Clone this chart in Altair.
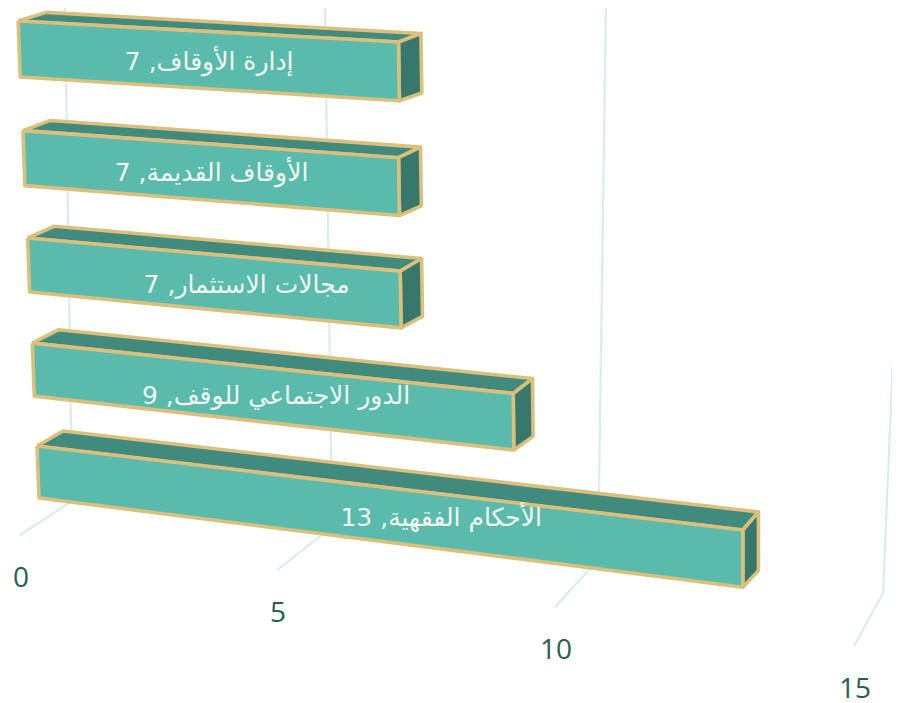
import altair as alt
import pandas as pd

# Data, bottom row first
categories = ["الأحكام الفقهية", "الدور الاجتماعي للوقف", "مجالات الاستثمار", "الأوقاف القديمة", "إدارة الأوقاف"]
values = [13, 9, 7, 7, 7]
ticks = [0, 5, 10, 15]

FRONT, TOP, SIDE = "#5ABBAC", "#408A7E", "#38776C"
EDGE, GRID, AXIS_TEXT, LABEL_TEXT = "#DABF7D", "#D9EEE9", "#27604F", "#F2F7F0"


def project(v, r, depth=0, height=0):
    """Perspective camera of the 3D chart: value v, row r, depth 0..1, height 0 (top) ..1 (bottom)."""
    x = 37 - 4.7 * r + v * (51.5 + 0.215 * v + 0.11 * r * (r - 1))
    y = 446 - 101.75 * r - 1.125 * r * r + v * (6.46 - 0.865 * r)
    h = 52 + r + 0.4 * v
    x += 2 * height * max(0, 1 - v / 13)
    y += height * h
    dx = 26 + 0.5 * r - 0.8 * v
    dy = -(15 - 1.6 * r) - v * (0.23 - 0.06 * r)
    if height:
        dy *= 0.92
    return x + depth * dx, y + depth * dy


def grid_points(v):
    u = v / 5
    return [
        (65 + 249.5 * u + 10.5 * u * u, 0),
        (72 + 261.33 * u - 3.5 * u * u + 2.17 * u ** 3, 501 + 20.17 * u + 7 * u * u - 1.17 * u ** 3),
        (20 + 246.5 * u + 10.5 * u * u, 535 + 34 * u + u * u),
    ]


faces = {"front": [], "top": [], "side": []}
for r, val in enumerate(values):
    quads = {
        "front": [(0, 0, 0), (val, 0, 0), (val, 0, 1), (0, 0, 1)],
        "top": [(0, 0, 0), (0, 1, 0), (val, 1, 0), (val, 0, 0)],
        "side": [(val, 0, 0), (val, 1, 0), (val, 1, 1), (val, 0, 1)],
    }
    for name, q in quads.items():
        for i, (v, d, h) in enumerate(q + q[:1]):
            px, py = project(v, r, d, h)
            faces[name].append({"bar": r, "i": i, "px": px, "py": py})

xs = alt.Scale(domain=[8, 892], range=[0, 884], nice=False, zero=False)
ys = alt.Scale(domain=[703, 8], range=[695, 0], nice=False, zero=False)
X = alt.X("px:Q", scale=xs, axis=None)
Y = alt.Y("py:Q", scale=ys, axis=None)

grid_rows = []
for t in ticks:
    for i, (px, py) in enumerate(grid_points(t)):
        grid_rows.append({"t": t, "i": i, "px": px, "py": py})
grid = alt.Chart(pd.DataFrame(grid_rows)).mark_line(color=GRID, strokeWidth=2.2, clip=True).encode(
    x=X, y=Y, detail="t:N", order="i:Q"
)


def face_layer(name, fill):
    return alt.Chart(pd.DataFrame(faces[name])).mark_line(
        fill=fill, stroke=EDGE, strokeWidth=3.6, strokeJoin="round", clip=True
    ).encode(x=X, y=Y, detail="bar:N", order="i:Q")


label_shift = [1.1, 0.13, 0.65, 0.05, 0.05]
label_drop = [-5, 0, 0, 0, 2]
label_rows = []
for r, (c, val) in enumerate(zip(categories, values)):
    px, py = project(val / 2 + label_shift[r], r, 0, 0.5)
    label_rows.append({"text": f"{c}, {val}", "px": px, "py": py + label_drop[r]})
labels = alt.Chart(pd.DataFrame(label_rows)).mark_text(
    font="DejaVu Sans", fontSize=25, color=LABEL_TEXT, align="center", baseline="middle"
).encode(x=X, y=Y, text="text:N")

tick_rows = []
for t in ticks:
    px, py = grid_points(t)[2]
    tick_rows.append({"text": str(t), "px": px + 1, "py": py + 44})
tick_text = alt.Chart(pd.DataFrame(tick_rows)).mark_text(
    font="Open Sans", fontSize=28, color=AXIS_TEXT, align="center", baseline="middle"
).encode(x=X, y=Y, text="text:N")

chart = alt.layer(
    grid, face_layer("top", TOP), face_layer("side", SIDE), face_layer("front", FRONT), labels, tick_text
).properties(
    width=884, height=695, padding=0, autosize=alt.AutoSizeParams(type="none")
).configure_view(stroke=None)

chart.save("out.html", embed_options={"renderer": "svg", "actions": False})
